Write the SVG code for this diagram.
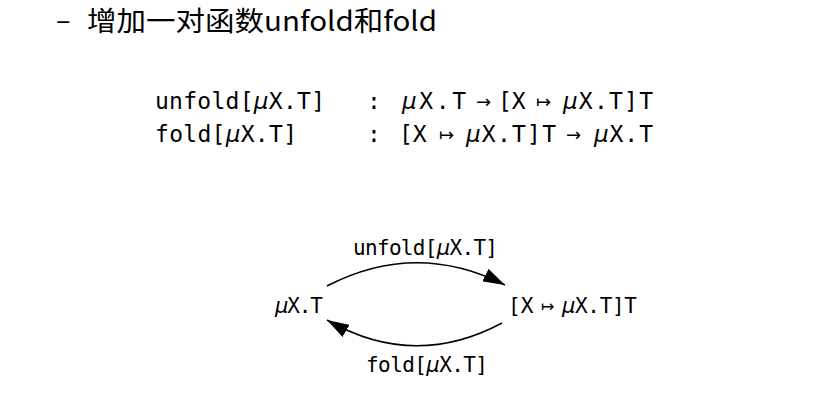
<svg xmlns="http://www.w3.org/2000/svg" width="829" height="409" viewBox="0 0 829 409">
<defs>
<style>
.title{font-family:"Noto Sans CJK SC","Microsoft YaHei",sans-serif;font-size:27px;fill:#000}
.mono{font-family:"DejaVu Sans Mono","Liberation Mono",monospace;font-size:21px;fill:#000}
.big{font-size:23px}
.mu{font-family:"DejaVu Sans",sans-serif;font-style:italic}
.sym{font-family:"DejaVu Sans",sans-serif;font-size:18px;fill:#000}
.edge{fill:none;stroke:#000;stroke-width:1.5}
</style>
<marker id="ah" viewBox="0 0 22 14" refX="22" refY="7" markerWidth="22" markerHeight="14" markerUnits="userSpaceOnUse" orient="auto">
<path d="M0,0 L22,7 L0,14 Z" fill="#000"/>
</marker>
</defs>
<rect width="829" height="409" fill="#fff"/>
<g id="title">
<text class="title" x="56" y="30">–</text>
<text class="title" x="87" y="31" textLength="350" lengthAdjust="spacingAndGlyphs">增加一对函数unfold和fold</text>
</g>
<g id="formulas">
<text class="mono big" x="155" y="109" textLength="170" lengthAdjust="spacing">unfold[<tspan class="mu">μ</tspan>X.T]</text>
<text class="mono big" x="367" y="109">:</text>
<text class="mono big" x="402" y="109" textLength="64" lengthAdjust="spacing"><tspan class="mu">μ</tspan>X.T</text>
<text class="sym" x="476" y="108">→</text>
<text class="mono big" x="498" y="109">[X</text>
<text class="sym" x="536" y="108">↦</text>
<text class="mono big" x="563" y="109" textLength="90" lengthAdjust="spacing"><tspan class="mu">μ</tspan>X.T]T</text>

<text class="mono big" x="155" y="142" textLength="142" lengthAdjust="spacing">fold[<tspan class="mu">μ</tspan>X.T]</text>
<text class="mono big" x="367" y="142">:</text>
<text class="mono big" x="399" y="142">[X</text>
<text class="sym" x="439" y="141">↦</text>
<text class="mono big" x="466" y="142" textLength="90" lengthAdjust="spacing"><tspan class="mu">μ</tspan>X.T]T</text>
<text class="sym" x="566" y="141">→</text>
<text class="mono big" x="594" y="142" textLength="59" lengthAdjust="spacing"><tspan class="mu">μ</tspan>X.T</text>
</g>
<g id="node-left">
<text class="mono" x="275" y="313" textLength="48" lengthAdjust="spacing"><tspan class="mu">μ</tspan>X.T</text>
</g>
<g id="node-right">
<text class="mono" x="508" y="313">[X</text>
<text class="sym" x="541" y="312" style="font-size:16px">↦</text>
<text class="mono" x="562" y="313" textLength="75" lengthAdjust="spacing"><tspan class="mu">μ</tspan>X.T]T</text>
</g>
<g id="connectors">
<path class="edge" d="M327,286 Q416,240 505,285" marker-end="url(#ah)"/>
<path class="edge" d="M502,323 Q414,370 327,320" marker-end="url(#ah)"/>
<text class="mono" x="353" y="255" textLength="145" lengthAdjust="spacing">unfold[<tspan class="mu">μ</tspan>X.T]</text>
<text class="mono" x="366" y="372" textLength="122" lengthAdjust="spacing">fold[<tspan class="mu">μ</tspan>X.T]</text>
</g>
</svg>
